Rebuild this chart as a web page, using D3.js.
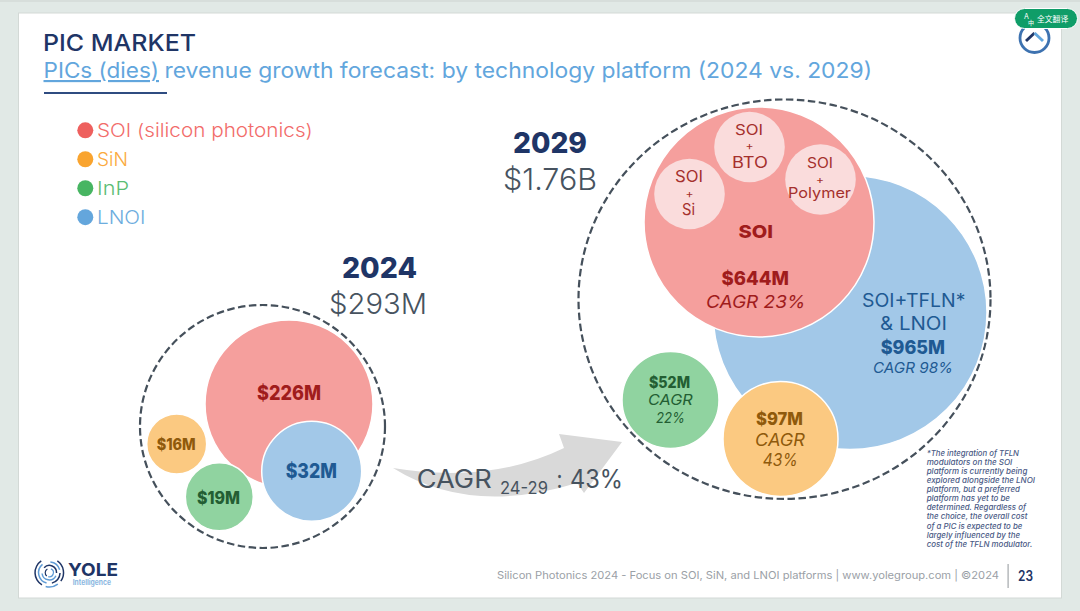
<!DOCTYPE html>
<html>
<head>
<meta charset="utf-8">
<script src="https://cdn.jsdelivr.net/npm/d3@7"></script>
<style>
  html, body { margin: 0; padding: 0; background: #e1e9e6; }
  svg { display: block; }
  text { font-family: Inter, "Noto Sans", sans-serif; }
</style>
</head>
<body>
<div id="chart"></div>
<script>
// data
const platforms = ["SOI", "SiN", "InP", "LNOI"];
const legendNames = ["SOI (silicon photonics)", "SiN", "InP", "LNOI"];
const values2024 = [226, 16, 19, 32];
const values2029 = [644, 97, 52, 965];
const cagr2029 = [23, 43, 22, 98];
const soiVariants = ["Si", "BTO", "Polymer"];
const totals = ["$293M", "$1.76B"];
const years = ["2024", "2029"];
const cagrTotal = 43;
const footnote = [
  "*The integration of TFLN",
  "modulators on the SOI",
  "platform is currently being",
  "explored alongside the LNOI",
  "platform, but a preferred",
  "platform has yet to be",
  "determined. Regardless of",
  "the choice, the overall cost",
  "of a PIC is expected to be",
  "largely influenced by the",
  "cost of the TFLN modulator."
];

const width = 1080, height = 611;
const navy = "#1f3566", slate = "#47535f";

// scales
const fill = d3.scaleOrdinal().domain(platforms).range(["#f59f9d", "#fbc981", "#90d3a0", "#a2c8e8"]);
const dot = d3.scaleOrdinal().domain(platforms).range(["#ee605e", "#f9a42f", "#47b562", "#64a6dc"]);
const legendInk = d3.scaleOrdinal().domain(platforms).range(["#f26c6a", "#fbaa3d", "#5cbd74", "#6dadde"]);
const ink = d3.scaleOrdinal().domain(platforms).range(["#a01c1c", "#8f5a0c", "#235e33", "#1f5a93"]);

const legendY = d3.scalePoint().domain(platforms).range([130.3, 217.2]);

// the bubbles in the source are not to scale, so the radius scales are piecewise
const r2024 = d3.scaleLinear().domain([16, 19, 32, 226]).range([30, 34, 50, 84]);
const r2029 = d3.scaleLinear().domain([52, 97, 644, 965]).range([48.5, 57.5, 115, 137]);
const x2024 = d3.scaleOrdinal().domain(platforms).range([289, 176.7, 219.3, 311.7]);
const y2024 = d3.scaleOrdinal().domain(platforms).range([404, 444, 496.7, 471.3]);
const x2029 = d3.scaleOrdinal().domain(platforms).range([759, 780.5, 670.5, 850]);
const y2029 = d3.scaleOrdinal().domain(platforms).range([222, 439, 400, 312.5]);
const xVariant = d3.scaleOrdinal().domain(soiVariants).range([689.5, 749.5, 820.5]);
const yVariant = d3.scaleOrdinal().domain(soiVariants).range([194, 147, 179.5]);

const money = v => "$" + v + "M";

const svg = d3.select("#chart").append("svg")
  .attr("width", width)
  .attr("height", height);

svg.append("rect")
  .attr("width", width).attr("height", height)
  .attr("fill", "#e1e9e6");
svg.append("rect")
  .attr("width", width).attr("height", 2)
  .attr("fill", "#d7dedb");
svg.append("rect")
  .attr("x", 18.5).attr("y", 13)
  .attr("width", 1043).attr("height", 585)
  .attr("fill", "#fff")
  .attr("stroke", "#d3d9d6");

// text is squeezed to the width measured on the picture, the original font is not installed
function label(str, x0, x1, y, size, color, opts) {
  opts = opts || {};
  return svg.append("text")
    .attr("x", x0)
    .attr("y", y)
    .attr("textLength", x1 - x0)
    .attr("lengthAdjust", "spacingAndGlyphs")
    .attr("font-size", size)
    .attr("font-weight", opts.weight || 400)
    .attr("font-style", opts.italic ? "italic" : "normal")
    .attr("text-decoration", opts.underline ? "underline" : null)
    .attr("fill", color)
    .text(str);
}

// header
label("PIC MARKET", 43, 196, 51, 23.5, navy, {weight: 500});
label("PICs (dies)", 43.5, 159, 78, 21.5, "#62a6dd", {underline: true});
label("revenue growth forecast: by technology platform (2024 vs. 2029)", 164.5, 872, 78, 21.5, "#62a6dd");
svg.append("rect")
  .attr("x", 44).attr("y", 92)
  .attr("width", 123).attr("height", 2)
  .attr("fill", "#2f4c81");

// legend
svg.selectAll(".legend-dot")
  .data(platforms)
  .enter()
  .append("circle")
  .attr("class", "legend-dot")
  .attr("cx", 85.3)
  .attr("cy", d => legendY(d))
  .attr("r", 8)
  .attr("fill", d => dot(d));

const legendRight = [312.8, 128, 129, 145.5];
platforms.forEach((p, i) => {
  label(legendNames[i], 97, legendRight[i], legendY(p) + 7, 18.5, legendInk(p), {weight: 300});
});

// arrow between the two years
const arrow = d3.path();
arrow.moveTo(393, 468);
arrow.quadraticCurveTo(490, 484, 564, 448);
arrow.lineTo(559, 434);
arrow.lineTo(622, 442);
arrow.lineTo(584, 493);
arrow.lineTo(577, 483);
arrow.quadraticCurveTo(470, 516, 393, 468);
arrow.closePath();
svg.append("path")
  .attr("d", arrow.toString())
  .attr("fill", "#d9d9d9");

// dashed outlines
function outline(cx, cy, rx, ry) {
  svg.append("ellipse")
    .attr("cx", cx).attr("cy", cy)
    .attr("rx", rx).attr("ry", ry)
    .attr("fill", "none")
    .attr("stroke", "#45505b")
    .attr("stroke-width", 2.2)
    .attr("stroke-dasharray", "7.5,3.5");
}
outline(262.5, 426.5, 122.5, 121.5);
outline(784.5, 299.2, 206, 199.7);

// bubbles, back to front
function bubbles(order, values, r, x, y) {
  svg.append("g")
    .selectAll("circle")
    .data(order)
    .enter()
    .append("circle")
    .attr("cx", d => x(d))
    .attr("cy", d => y(d))
    .attr("r", d => r(values[platforms.indexOf(d)]))
    .attr("fill", d => fill(d))
    .attr("stroke", "#fff")
    .attr("stroke-width", 1.5);
}
bubbles(["SOI", "LNOI", "SiN", "InP"], values2024, r2024, x2024, y2024);
bubbles(["LNOI", "SOI", "SiN", "InP"], values2029, r2029, x2029, y2029);

svg.append("g")
  .selectAll("circle")
  .data(soiVariants)
  .enter()
  .append("circle")
  .attr("cx", d => xVariant(d))
  .attr("cy", d => yVariant(d))
  .attr("r", 35.3)
  .attr("fill", "#fadcdc");

// year headings
label(years[0], 342, 417, 278, 29, navy, {weight: 800});
label(totals[0], 329, 427, 314, 29, slate, {weight: 300});
label(years[1], 513, 587, 153, 29, navy, {weight: 800});
label(totals[1], 503, 597, 190, 30, slate, {weight: 300});

// 2024 labels
const bold = {weight: 800};
label(money(values2024[0]), 257, 321, 400, 20, ink("SOI"), bold);
label(money(values2024[1]), 156.7, 195.7, 450, 16, ink("SiN"), bold);
label(money(values2024[2]), 197, 240, 504, 17.5, ink("InP"), bold);
label(money(values2024[3]), 285.7, 337, 478, 20, ink("LNOI"), bold);

// 2029 labels
const it = {italic: true};
label("SOI", 738.5, 773, 238, 18, ink("SOI"), bold);
label(money(values2029[0]), 721.6, 789, 285, 18.5, ink("SOI"), bold);
label("CAGR " + cagr2029[0] + "%", 706, 805.5, 308, 17.5, ink("SOI"), it);

label("SOI+TFLN*", 862, 965.5, 307, 18.5, ink("LNOI"));
label("& LNOI", 880, 947, 330, 18.5, ink("LNOI"));
label(money(values2029[3]), 880.7, 945, 354, 18.5, ink("LNOI"), bold);
label("CAGR " + cagr2029[3] + "%", 873, 953, 372.7, 15, ink("LNOI"), it);

label(money(values2029[1]), 756, 803, 425, 18, ink("SiN"), bold);
label("CAGR", 755, 805, 446, 17, ink("SiN"), it);
label(cagr2029[1] + "%", 762.7, 797.7, 466, 17, ink("SiN"), it);

label(money(values2029[2]), 649, 690, 387.7, 15.5, ink("InP"), bold);
label("CAGR", 648, 692.7, 405, 15, ink("InP"), it);
label(cagr2029[2] + "%", 656, 685, 423, 15, ink("InP"), it);

// SOI variants
const variantInk = "#a5302d";
label("SOI", 735, 763, 134.5, 15, variantInk);
label("+", 745.5, 753.5, 150, 11, variantInk);
label(soiVariants[1], 732, 768, 168, 15.5, variantInk);

label("SOI", 675, 703, 182, 15.5, variantInk);
label("+", 685.5, 693.5, 198, 11, variantInk);
label(soiVariants[0], 682, 695, 215, 15.5, variantInk);

label("SOI", 807, 833, 168, 14, variantInk);
label("+", 816, 824, 183, 10.5, variantInk);
label(soiVariants[2], 788, 851, 198, 14.5, variantInk);

// CAGR text over the arrow
label("CAGR", 416.7, 491.7, 488, 25, slate);
label("24-29", 500, 548, 494, 17, slate);
label(":", 556.5, 562.5, 488, 25, slate);
label(cagrTotal + "%", 570, 623, 488, 25, slate);

// footnote
const noteRight = [357, 337, 382, 405, 360, 330, 378, 382, 367, 360, 397];
const noteY = [455.7, 465, 474, 482.7, 492, 501, 510, 519, 528.7, 537.7, 546.7];
footnote.forEach((line, i) => {
  label(line, 926.7, 900 + noteRight[i] / 3, noteY[i], 8, "#4a5a85", {italic: true, weight: 500});
});

// footer
label("Silicon Photonics 2024 - Focus on SOI, SiN, and LNOI platforms | www.yolegroup.com | ©2024",
  497, 999, 579, 10.5, "#9aa0a6");
svg.append("rect")
  .attr("x", 1007.5).attr("y", 564)
  .attr("width", 1.2).attr("height", 24)
  .attr("fill", "#a4a8ac");
label("23", 1018, 1033, 581, 14, navy, {weight: 600});

// logo
const logoArc = d3.arc();
const logo = svg.append("g").attr("transform", "translate(49.3,572.7)");
const logoArcs = [
  [13.5, 15, -2.6, -0.6, "#1f3566"], [13.5, 15, 0.6, 2.2, "#1f3566"], [13.5, 15, 2.5, 3.4, "#5f9bd5"],
  [10, 11.5, 3.4, 5.6, "#5f9bd5"], [10, 11.5, 0.1, 1.3, "#5f9bd5"], [10, 11.5, 1.6, 2.9, "#1f3566"],
  [6.5, 8, -0.8, 1.6, "#1f3566"], [6.5, 8, 2, 4.6, "#5f9bd5"],
  [3.5, 4.7, 0.4, 3.4, "#5f9bd5"], [3.5, 4.7, 3.8, 5.8, "#1f3566"]
];
logo.selectAll("path")
  .data(logoArcs)
  .enter()
  .append("path")
  .attr("d", d => logoArc({innerRadius: d[0], outerRadius: d[1], startAngle: d[2], endAngle: d[3]}))
  .attr("fill", d => d[4]);
label("YOLE", 68, 118, 576, 18, navy, {weight: 700});
label("Intelligence", 72.7, 111, 585, 7.5, "#8cb7df", {weight: 700});

// round icon, top right
svg.append("circle")
  .attr("cx", 1034.5).attr("cy", 38)
  .attr("r", 14.5)
  .attr("fill", "#fff")
  .attr("stroke", "#3d72b0")
  .attr("stroke-width", 2.8);
const chevron = d3.line();
svg.append("path")
  .attr("d", chevron([[1026, 41], [1034.5, 33]]))
  .attr("fill", "none").attr("stroke", "#1f3566").attr("stroke-width", 3);
svg.append("path")
  .attr("d", chevron([[1034.5, 33], [1043, 41]]))
  .attr("fill", "none").attr("stroke", "#62a6dd").attr("stroke-width", 3);

// translate pill
svg.append("rect")
  .attr("x", 1014.5).attr("y", 8.5)
  .attr("width", 63).attr("height", 20)
  .attr("rx", 10)
  .attr("fill", "#0f9d68")
  .attr("stroke", "#fff");
svg.append("text")
  .attr("x", 1024).attr("y", 19)
  .attr("font-size", 7)
  .attr("fill", "#fff")
  .text("A");
svg.append("text")
  .attr("x", 1028).attr("y", 25)
  .attr("font-size", 6)
  .attr("fill", "#fff")
  .style("font-family", '"Noto Sans CJK SC"')
  .text("中");
svg.append("text")
  .attr("x", 1037).attr("y", 22)
  .attr("font-size", 7.8)
  .attr("fill", "#fff")
  .style("font-family", '"Noto Sans CJK SC"')
  .text("全文翻译");
</script>
</body>
</html>
